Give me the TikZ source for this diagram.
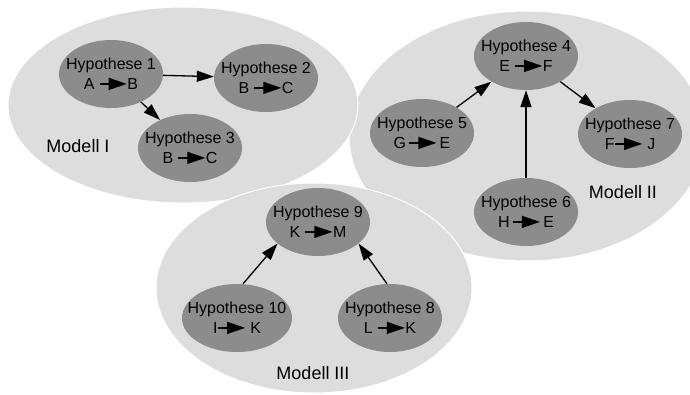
\documentclass[tikz,border=0pt]{standalone}
\usepackage{fontspec}
\setmainfont{Liberation Sans}
\usetikzlibrary{arrows.meta,shapes.geometric}
\definecolor{modelfill}{HTML}{DDDDDD}
\definecolor{hypfill}{HTML}{8C8C8C}
% small implication arrow used inside the hypothesis labels
\newcommand\ha{\tikz[baseline=-5.8pt,x=1pt,y=1pt]\draw[line width=1.3pt,-{Triangle[length=18pt,width=12pt]}] (0,0) -- (27,0);}
\begin{document}
\begin{tikzpicture}[x=1pt,y=-1pt,
  model/.style={ellipse, fill=modelfill, draw=white, line width=1pt, inner sep=0pt},
  hyp/.style={ellipse, fill=hypfill, minimum width=104pt, minimum height=68pt, inner sep=0pt},
  txt/.style={font=\fontsize{16}{20}\selectfont, align=center, inner sep=0pt},
  lbl/.style={font=\fontsize{18}{22}\selectfont, inner sep=0pt},
  link/.style={line width=1.3pt, -{Triangle[length=17pt,width=11pt]}}]
\clip (0,0) rectangle (690,395);
\useasboundingbox (0,0) rectangle (690,395);

% model regions
\node[model, minimum width=356pt, minimum height=250pt] (m2) at (527,136) {};
\node[model, minimum width=350pt, minimum height=196pt] (m1) at (183,105) {};
\node[model, minimum width=316pt, minimum height=210pt] (m3) at (314,288) {};

% hypotheses
\node[hyp] (h1) at (111,74) {};
\node[hyp] (h2) at (266,78) {};
\node[hyp] (h3) at (190,148) {};
\node[hyp] (h4) at (526,56) {};
\node[hyp] (h5) at (422,133) {};
\node[hyp] (h7) at (630,134) {};
\node[hyp] (h6) at (526,212) {};
\node[hyp] (h9) at (318,222) {};
\node[hyp, minimum width=110pt] (h10) at (237,318) {};
\node[hyp] (h8) at (390,318) {};

\node[txt] (t1) at (h1) {Hypothese 1\\A \ha{}B};
\node[txt] (t2) at (h2) {Hypothese 2\\B \ha{}C};
\node[txt] (t3) at (h3) {Hypothese 3\\B \ha{}C};
\node[txt] (t4) at (h4) {Hypothese 4\\E \ha{}F};
\node[txt] (t5) at (h5) {Hypothese 5\\G\,\ha\,E};
\node[txt] (t7) at (h7) {Hypothese 7\\F\ha{} J};
\node[txt] (t6) at (h6) {Hypothese 6\\H\,\ha\,E};
\node[txt] (t9) at (h9) {Hypothese 9\\K \ha{}M};
\node[txt] (t10) at (h10) {Hypothese 10\\I\ha{} K};
\node[txt] (t8) at (h8) {Hypothese 8\\L \ha{}K};

% model names
\node[lbl] (l1) at (78,146) {Modell I};
\node[lbl] (l2) at (623,192) {Modell II};
\node[lbl] (l3) at (313,373) {Modell III};

% relations
\draw[link] (h1) -- (h2);
\draw[link] (h1) -- (h3);
\draw[link] (h5) -- (h4);
\draw[link] (h4) -- (h7);
\draw[link] (h6) -- (h4);
\draw[link] ([xshift=6pt]h10.north) -- (h9.208);
\draw[link] ([xshift=-3pt]h8.north) -- (h9.332);
\end{tikzpicture}
\end{document}
